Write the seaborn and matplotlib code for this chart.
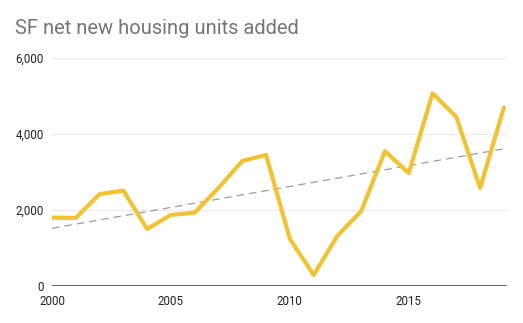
import numpy as np
import pandas as pd
import matplotlib
matplotlib.use("Agg")
import matplotlib.pyplot as plt
import seaborn as sns

years = list(range(2000, 2020))
units = [1800, 1790, 2420, 2510, 1500, 1870, 1930, 2580, 3290, 3450,
         1240, 290, 1320, 1970, 3550, 2970, 5070, 4450, 2580, 4700]
title = "SF net new housing units added"
yticks = [0, 2000, 4000, 6000]
xticks = [2000, 2005, 2010, 2015]

sns.set_theme(style="white")
plt.rcParams['font.family'] = ['Roboto', 'DejaVu Sans']

df = pd.DataFrame({"year": years, "units": units})
coef = np.polyfit(df["year"], df["units"], 1)
trend = pd.DataFrame({"year": years, "trend": np.polyval(coef, years)})

fig = plt.figure(figsize=(5.23, 3.23), dpi=100)
ax = fig.add_axes([52/523, 37/323, (507-52)/523, (286-58)/323])

for y in yticks[1:]:
    ax.axhline(y, color="#ebebeb", lw=0.9, zorder=0)
ax.axhline(0, color="#333333", lw=1.1, zorder=3)

sns.lineplot(data=trend, x="year", y="trend", ax=ax, color="#9e9e9e",
             lw=0.9, linestyle=(0, (6, 4)), zorder=2)
sns.lineplot(data=df, x="year", y="units", ax=ax, color="#F1C232",
             lw=3.0, zorder=4)

ax.set_xlim(2000, 2019.13)
ax.set_ylim(0, 6000)
ax.set_xticks(xticks)
ax.set_xticklabels([str(x) for x in xticks])
ax.set_yticks(yticks)
ax.set_yticklabels([f"{y:,}" for y in yticks])
ax.tick_params(axis="both", length=0, labelsize=8.3, colors="#222222")
ax.tick_params(axis="x", pad=6.5)
ax.tick_params(axis="y", pad=6)
ax.set_xlabel("")
ax.set_ylabel("")
for s in ax.spines.values():
    s.set_visible(False)

fig.text(15/523, 1 - 28/323, title, fontsize=14.5, color="#757575",
         va="center", ha="left")

fig.savefig("out.png", dpi=100, facecolor="white")
